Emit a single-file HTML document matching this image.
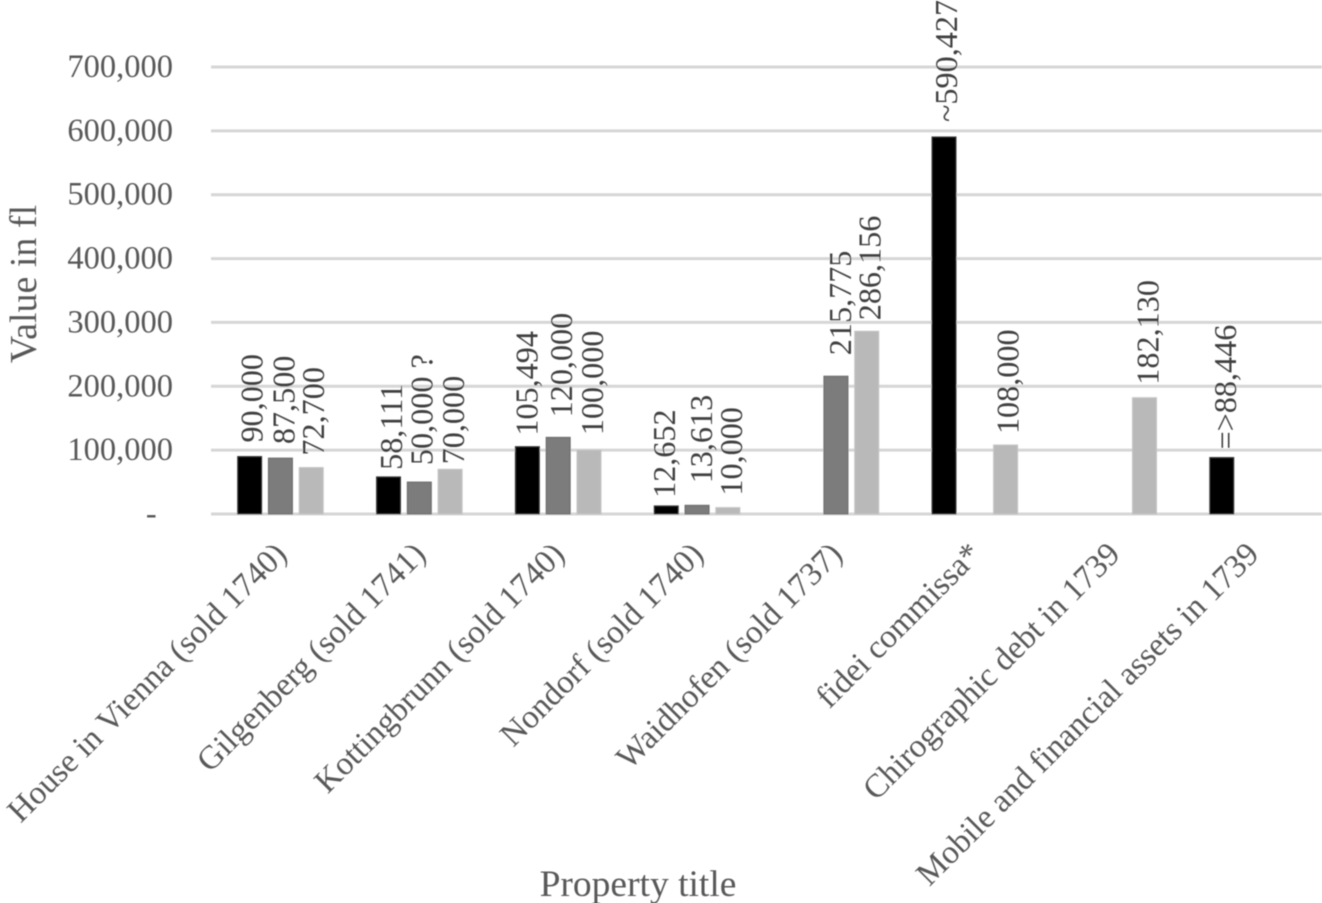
<!DOCTYPE html>
<html lang="en">
<head>
<meta charset="utf-8">
<title>Value of property titles</title>
<style>
html,body{margin:0;padding:0;background:#fff;width:1322px;height:903px;overflow:hidden}
svg{display:block;font-family:"Liberation Serif",serif}
text{white-space:pre}
</style>
</head>
<body>
<svg id="chart" xmlns="http://www.w3.org/2000/svg" width="1322" height="903" viewBox="0 0 1322 903">
  <defs>
    <filter id="soft" x="-5%" y="-5%" width="110%" height="110%"><feGaussianBlur stdDeviation="0.55"/></filter>
  </defs>
  <g id="root" filter="url(#soft)"></g>
</svg>
<script>
const categories = ["House in Vienna (sold 1740)", "Gilgenberg (sold 1741)", "Kottingbrunn (sold 1740)", "Nondorf (sold 1740)", "Waidhofen (sold 1737)", "fidei commissa*", "Chirographic debt in 1739", "Mobile and financial assets in 1739"];
const seriesA = [90000, 58111, 105494, 12652, null, 590427, null, 88446];
const seriesB = [87500, 50000, 120000, 13613, 215775, null, null, null];
const seriesC = [72700, 70000, 100000, 10000, 286156, 108000, 182130, null];
const labelsA = ["90,000", "58,111", "105,494", "12,652", null, "~590,427", null, "=>88,446"];
const labelsB = ["87,500", "50,000 ?", "120,000", "13,613", "215,775", null, null, null];
const labelsC = ["72,700", "70,000", "100,000", "10,000", "286,156", "108,000", "182,130", null];
const tickValues = [0, 100000, 200000, 300000, 400000, 500000, 600000, 700000];
const tickLabels = ["-  ", "100,000", "200,000", "300,000", "400,000", "500,000", "600,000", "700,000"];

const NS = "http://www.w3.org/2000/svg";
const root = document.getElementById("root");
const plotLeft = 211, plotRight = 1322, plotBottom = 514, plotTop = 67, maxValue = 700000;
const yScale = v => plotBottom - (v / maxValue) * (plotBottom - plotTop);
const band = (plotRight - plotLeft) / categories.length;
const xCenter = i => plotLeft + band * (i + 0.5);
const barWidth = 24, barStep = 30.8;
const gapA = [14, 7, 11, 8, 0, 15, 0, 8];
const gapB = [14, 17, 20, 22, 21, 0, 0, 0];
const gapC = [12, 5, 15, 12, 11, 11, 13, 0];
const shiftA = [2, 2.5, -1, -2, 0, 2, 0, 3];
const shiftB = [3, 2, 3, 4, 4, 0, 0, 0];
const shiftC = [2, 3, 3, 3, 3, 2, 3, 0];
const seriesList = [
  {key: "a", values: seriesA, labels: labelsA, gaps: gapA, shifts: shiftA, fill: "#000000", stroke: "#3a3a3a"},
  {key: "b", values: seriesB, labels: labelsB, gaps: gapB, shifts: shiftB, fill: "#7b7b7b", stroke: "#6a6a6a"},
  {key: "c", values: seriesC, labels: labelsC, gaps: gapC, shifts: shiftC, fill: "#b9b9b9", stroke: "#c4c4c4"}
];

function make(tag, attrs, text) {
  const el = document.createElementNS(NS, tag);
  for (const k in attrs) el.setAttribute(k, attrs[k]);
  if (text !== undefined) el.textContent = text;
  root.appendChild(el);
  return el;
}

tickValues.forEach((v, i) => {
  const y = yScale(v);
  const line = make("line", {x1: plotLeft, x2: plotRight, y1: y, y2: y, stroke: "#d6d6d6", "stroke-width": 3});
  
  
  const tick = make("text", {x: 173, y: y + 10, "text-anchor": "end", "font-size": 32.5, fill: "#595959"}, tickLabels[i]);
  
  
});

seriesList.forEach((s, si) => {
  s.values.forEach((v, i) => {
    if (v === null) return;
    const cx = xCenter(i) + (si - 1) * barStep;
    const top = yScale(v);
    const bar = make("rect", {x: cx - barWidth / 2, y: top, width: barWidth, height: plotBottom - top, fill: s.fill, stroke: s.stroke, "stroke-width": 1});
    
    
    const by = top - s.gaps[i], bx = cx + 11 + s.shifts[i];
    const lab = make("text", {x: bx, y: by, transform: "rotate(-90 " + bx + " " + by + ")", "font-size": 32.2, fill: "#404040"}, s.labels[i]);
    
    
  });
});

categories.forEach((c, i) => {
  const x = xCenter(i) + 8, y = 556;
  const lab = make("text", {x: x, y: y, transform: "rotate(-45 " + x + " " + y + ")", "text-anchor": "end", "font-size": 33, fill: "#595959"}, c);
  
  
});

const xTitle = make("text", {x: 638, y: 896, "text-anchor": "middle", "font-size": 37.5, fill: "#595959"}, "Property title");


const yTitle = make("text", {x: 36, y: 284, transform: "rotate(-90 36 284)", "text-anchor": "middle", "font-size": 38, fill: "#595959"}, "Value in fl");


</script>
</body>
</html>
